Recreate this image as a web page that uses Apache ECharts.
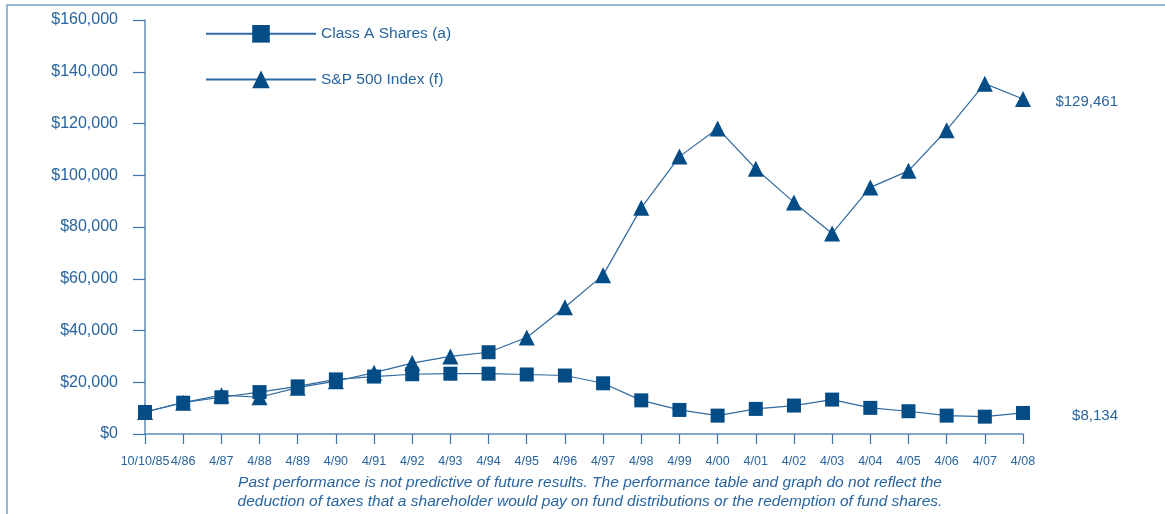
<!DOCTYPE html>
<html>
<head>
<meta charset="utf-8">
<script src="https://cdn.jsdelivr.net/npm/echarts@6/dist/echarts.min.js"></script>
<style>
  html, body { margin: 0; padding: 0; background: #fff; }
  #main { width: 1165px; height: 514px; }
</style>
</head>
<body>
<div id="main"></div>
<script>
// categories on the x axis
const periods = ['10/10/85', '4/86', '4/87', '4/88', '4/89', '4/90', '4/91', '4/92', '4/93', '4/94', '4/95', '4/96',
  '4/97', '4/98', '4/99', '4/00', '4/01', '4/02', '4/03', '4/04', '4/05', '4/06', '4/07', '4/08'];

// values
const classA = [8500, 12100, 14200, 16200, 18400, 21100, 22200, 23100, 23300, 23300, 23000, 22600,
  19600, 13000, 9300, 7100, 9700, 11000, 13300, 10100, 8800, 7100, 6700, 8134];
const sp500 = [8500, 12100, 15000, 14200, 17900, 20400, 23700, 27400, 30000, 31600, 37300, 49000,
  61400, 87400, 107200, 118100, 102500, 89500, 77500, 95300, 101700, 117400, 135400, 129461];

// the original drew the 4/94 S&P point as a square
const spRectPoints = ['4/94'];

const yTicks = { min: 0, max: 160000, step: 20000 };

const textColor = '#28649f';
const markColor = '#034c86';
const lineColor = '#2f6aa0';
const axisColor = '#5f8cb9';
const font = '"Liberation Sans", Arial, sans-serif';

const money = v => '$' + Math.round(v).toLocaleString('en-US');

const chart = echarts.init(document.getElementById('main'), null, { renderer: 'canvas' });

const option = {
  animation: false,
  backgroundColor: '#fff',
  textStyle: { fontFamily: font, color: textColor },
  grid: { left: 145, right: 142, top: 20, bottom: 80 },
  legend: {
    orient: 'vertical',
    left: 200,
    top: 20,
    itemWidth: 110,
    itemHeight: 22,
    itemGap: 28,
    textStyle: { fontSize: 15.5, color: textColor, fontFamily: font },
    data: ['Class A Shares (a)', 'S&P 500 Index (f)']
  },
  xAxis: {
    type: 'category',
    boundaryGap: false,
    data: periods,
    axisLine: { lineStyle: { color: axisColor, width: 1.5 } },
    axisTick: { alignWithLabel: true, length: 10, lineStyle: { color: '#3f74a8', width: 1.2 } },
    axisLabel: { color: textColor, fontSize: 12.5, margin: 21, interval: 0, fontFamily: font }
  },
  yAxis: {
    type: 'value',
    min: yTicks.min,
    max: yTicks.max,
    interval: yTicks.step,
    splitLine: { show: false },
    axisLine: { show: true, lineStyle: { color: axisColor, width: 1.5 } },
    axisTick: { show: true, length: 12, lineStyle: { color: '#3f74a8', width: 1.2 } },
    axisLabel: { color: textColor, fontSize: 16, margin: 27, formatter: money, fontFamily: font }
  },
  series: [
    {
      name: 'Class A Shares (a)',
      type: 'line',
      data: classA,
      symbol: 'rect',
      symbolSize: 14,
      z: 3,
      lineStyle: { color: lineColor, width: 1.2 },
      itemStyle: { color: markColor }
    },
    {
      name: 'S&P 500 Index (f)',
      type: 'line',
      data: sp500.map((v, i) => spRectPoints.includes(periods[i])
        ? { value: v, symbol: 'rect', symbolSize: 14 } : v),
      symbol: 'triangle',
      symbolSize: 16,
      z: 2,
      lineStyle: { color: lineColor, width: 1.2 },
      itemStyle: { color: markColor }
    }
  ]
};

chart.setOption(option);

// end values, right-aligned beside the plot, placed through the chart's own scale
const last = periods.length - 1;
const endLabels = [sp500[last], classA[last]].map(v => {
  const y = chart.convertToPixel({ yAxisIndex: 0 }, v);
  return {
    type: 'text',
    right: 1165 - 1118,
    top: y - 5,
    style: { text: money(v), fill: textColor, font: '15px ' + font, textAlign: 'right' }
  };
});

chart.setOption({
  graphic: [
    // frame of the original page
    {
      type: 'rect',
      x: 0, y: 0,
      shape: { x: 7, y: 5, width: 1300, height: 700 },
      style: { fill: 'none', stroke: '#7d9fc5', lineWidth: 1.5 },
      silent: true
    },
    ...endLabels,
    {
      type: 'text',
      x: 590,
      y: 473,
      style: {
        text: 'Past performance is not predictive of future results. The performance table and graph do not reflect the\n' +
              'deduction of taxes that a shareholder would pay on fund distributions or the redemption of fund shares.',
        fill: textColor,
        font: 'italic 15.5px ' + font,
        align: 'center',
        lineHeight: 19
      }
    }
  ]
});
</script>
</body>
</html>
